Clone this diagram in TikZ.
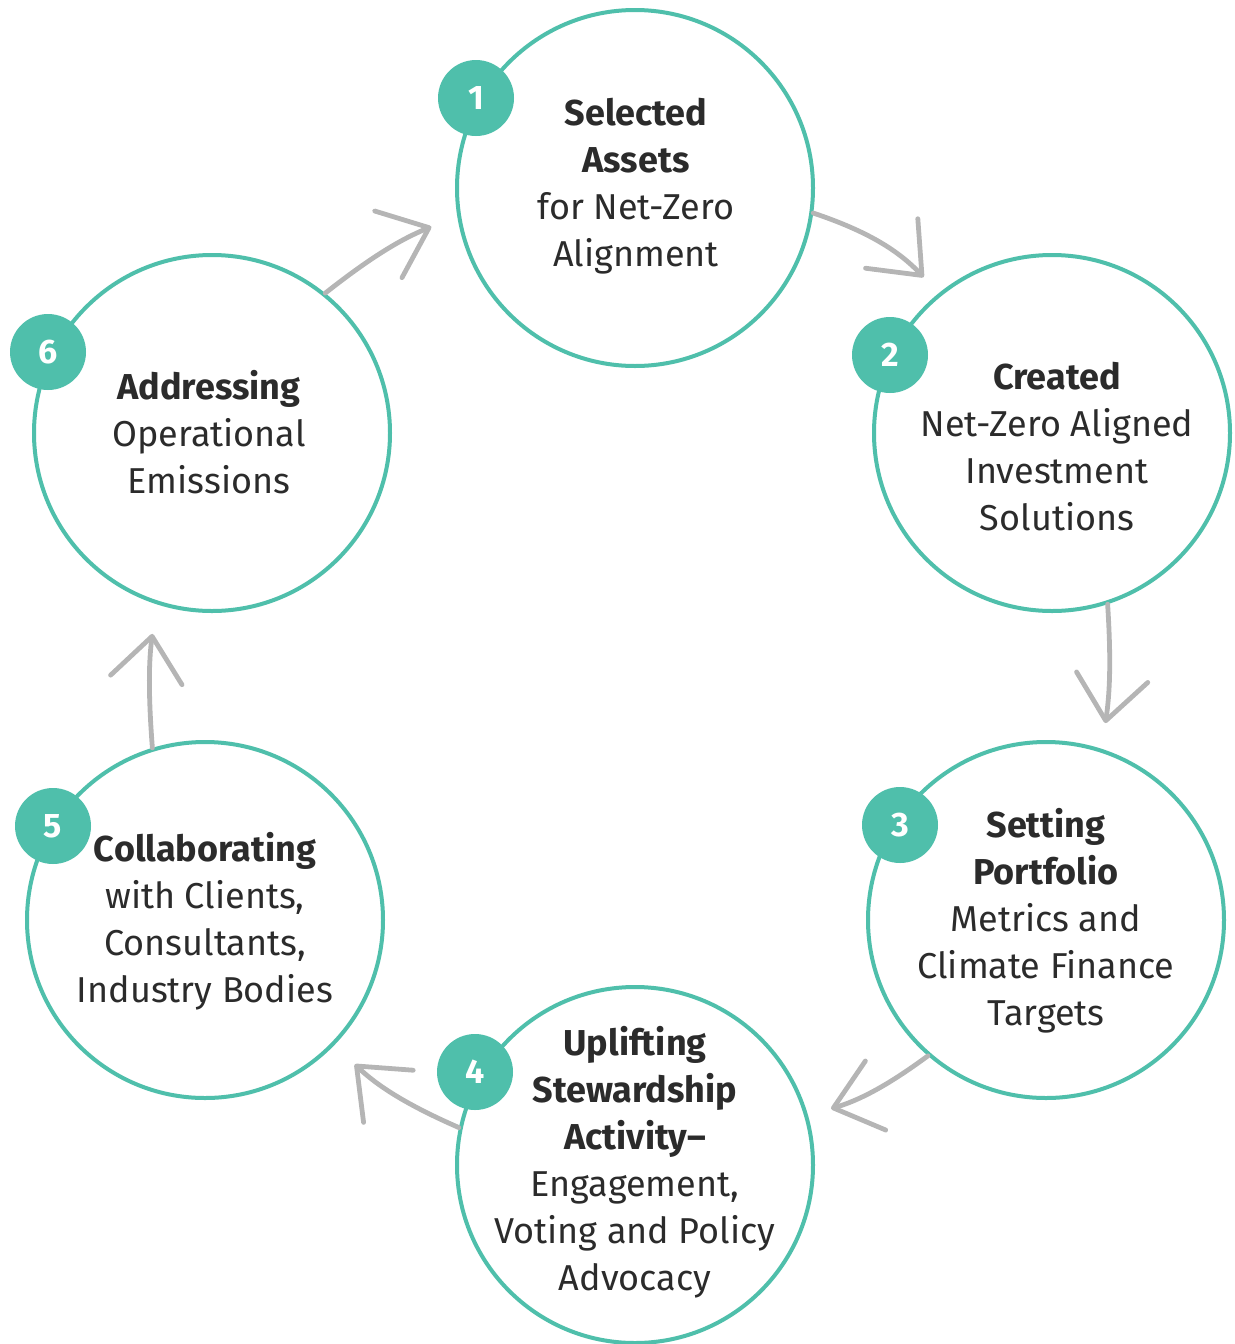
\documentclass[tikz,border=0pt]{standalone}
\usepackage{fontspec}
\setmainfont{Fira Sans}
\usetikzlibrary{arrows.meta}
\definecolor{teal}{HTML}{4FBFAB}
\definecolor{arrowgray}{HTML}{B5B5B5}
\definecolor{txt}{HTML}{2B2B2B}
\tikzset{
  stage/.style={circle, draw=teal, line width=2pt, minimum size=178pt, inner sep=0pt, fill=white},
  badge/.style={circle, fill=teal, minimum size=38pt, inner sep=0pt, text=white, font=\fontsize{17}{17}\selectfont\bfseries},
  label/.style={align=center, text=txt, font=\fontsize{18}{23.5}\selectfont},
  flow/.style={draw=arrowgray, line width=2.4pt, line cap=round,
    -{Straight Barb[length=22pt,width=36pt,line width=2.4pt,round]}}
}
\begin{document}
\begin{tikzpicture}[x=0.5pt,y=0.5pt]
\useasboundingbox (0,0) rectangle (1235,-1344);
% circles
\node[stage] (c1) at (635,-188) {};
\node[stage] (c2) at (1052,-433) {};
\node[stage] (c3) at (1046,-920) {};
\node[stage] (c4) at (635,-1165) {};
\node[stage] (c5) at (205,-920) {};
\node[stage] (c6) at (212,-433) {};
% connectors
\draw[flow, shorten >=11pt] (c1.-8.5) to[bend left=14] (c2.129);
\draw[flow, shorten >=13pt] (c2.-72.5) to[bend left=6] (c3.72.4);
\draw[flow, shorten >=12pt] (c3.-131) to[bend left=10] (c4.16.6);
\draw[flow, shorten >=14pt] (c4.168.8) to[bend left=10] (c5.-44.6);
\draw[flow, shorten >=15pt] (c5.107.4) to[bend left=6] (c6.-108);
\draw[flow, shorten >=14pt] (c6.51.7) to[bend left=8] (c1.189.5);
% badges
\node[badge] (b1) at (476,-98) {1};
\node[badge] (b2) at (890,-355) {2};
\node[badge] (b3) at (900,-825) {3};
\node[badge] (b4) at (475,-1072) {4};
\node[badge] (b5) at (53,-826) {5};
\node[badge] (b6) at (48,-352) {6};
% texts
\node[label] (t1) at (636,-186) {\textbf{Selected}\\\textbf{Assets}\\for Net-Zero\\Alignment};
\node[label] (t2) at (1057,-447) {\textbf{Created}\\Net-Zero Aligned\\Investment\\Solutions};
\node[label] (t3) at (1046,-921) {\textbf{Setting}\\\textbf{Portfolio}\\Metrics and\\Climate Finance\\Targets};
\node[label] (t4) at (635,-1162) {\textbf{Uplifting}\\\textbf{Stewardship}\\\textbf{Activity–}\\Engagement,\\Voting and Policy\\Advocacy};
\node[label] (t5) at (205,-921) {\textbf{Collaborating}\\with Clients,\\Consultants,\\Industry Bodies};
\node[label] (t6) at (209,-432) {\textbf{Addressing}\\Operational\\Emissions};
\end{tikzpicture}
\end{document}
